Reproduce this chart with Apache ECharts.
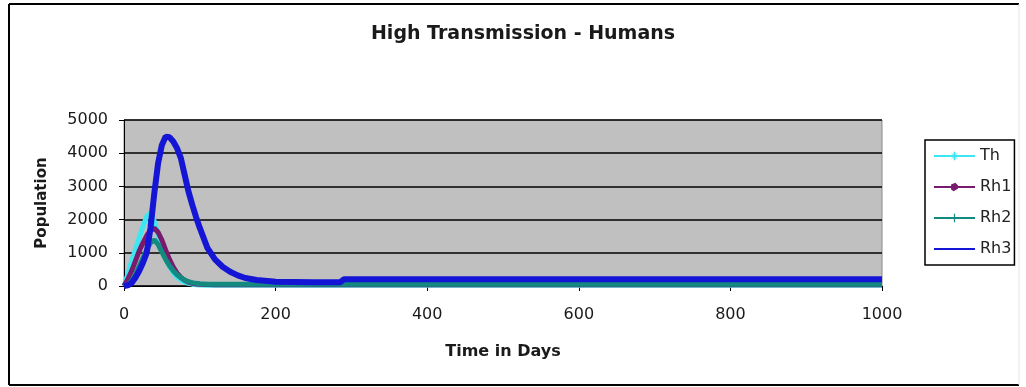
<!DOCTYPE html>
<html><head><meta charset="utf-8">
<script src="https://cdn.jsdelivr.net/npm/echarts@6/dist/echarts.min.js"></script>
<style>html,body{margin:0;padding:0;background:#fff}#c{width:1026px;height:387px}</style>
</head><body><div id="c"></div>
<script>
const titleText = "High Transmission - Humans";
const xName = "Time in Days";
const yName = "Population";
const seriesNames = ["Th", "Rh1", "Rh2", "Rh3"];
const days = [0,5,10,15,20,25,30,35,40,45,50,55,60,65,70,75,80,85,90,95,100,110,120,130,140,150,160,175,200,250,285,290,400,600,800,1000];
const th  = [0,350,750,1100,1450,1800,2100,2200,1950,1550,1150,820,580,400,270,180,120,80,55,40,30,25,20,20,20,20,20,20,20,20,20,20,20,20,20,20];
const rh1 = [0,200,450,750,1050,1300,1520,1680,1740,1620,1380,1080,800,570,390,260,170,115,80,60,50,45,40,40,40,40,40,40,40,40,40,40,40,40,40,40];
const rh2 = [0,30,150,350,600,850,1100,1300,1390,1250,1020,800,610,460,340,250,180,130,100,80,65,55,50,50,50,50,50,50,50,50,50,50,50,50,50,50];
const rh3 = [0,20,90,250,450,700,1000,1750,2800,3700,4250,4500,4480,4350,4150,3850,3350,2850,2450,2080,1750,1150,800,580,430,320,240,180,130,110,110,200,200,200,200,200];
const yTicks = [0,1000,2000,3000,4000,5000];
const xTicks = [0,200,400,600,800,1000];

const colors = ['#3ee6f2', '#7a1a6e', '#138a80', '#1515d6'];
// marker shapes padded with invisible zero-area points so they render small in the legend
const pad = 'M-2.5,-2.5L-2.5,-2.5Z M12.5,12.5L12.5,12.5Z ';
const symbols = [
  'path://' + pad + 'M4,0H6V3.6L8.5,1.1L8.9,1.5L6.4,4H10V6H6.4L8.9,8.5L8.5,8.9L6,6.4V10H4V6.4L1.5,8.9L1.1,8.5L3.6,6H0V4H3.6L1.1,1.5L1.5,1.1L4,3.6Z',
  'path://' + pad + 'M1,2L6,0L9,3L9,7L4,10L1,8Z',
  'path://' + pad + 'M4.3,0H5.7V4.3H10V5.7H5.7V10H4.3V5.7H0V4.3H4.3Z',
  'path://M0,0L0,0Z M10,10L10,10Z'
];
const allData = [th, rh1, rh2, rh3];

const ff = 'DejaVu Sans';
const chart = echarts.init(document.getElementById('c'), null, {renderer: 'canvas'});
chart.setOption({
  animation: false,
  backgroundColor: '#ffffff',
  title: {
    text: titleText, left: 518, top: 20, textAlign: 'center',
    textStyle: {fontFamily: ff, fontWeight: 'bold', fontSize: 19, color: '#1a1a1a'}
  },
  legend: {
    orient: 'vertical', left: 925, top: 140,
    padding: [8, 3, 8, 8], itemGap: 15, itemWidth: 41, itemHeight: 16,
    borderColor: '#000', borderWidth: 1.5,
    textStyle: {fontFamily: ff, fontSize: 16, color: '#222'},
    data: seriesNames
  },
  grid: {
    left: 124, right: 144, top: 120, bottom: 101,
    show: true, backgroundColor: '#c0c0c0', borderColor: '#8a8a8a', borderWidth: 1
  },
  xAxis: {
    type: 'value', min: 0, max: 1000, interval: 200,
    name: xName, nameLocation: 'middle', nameGap: 58,
    nameTextStyle: {fontFamily: ff, fontWeight: 'bold', fontSize: 16, color: '#1a1a1a'},
    axisLine: {show: true, lineStyle: {color: '#000', width: 1}},
    axisTick: {show: true, inside: false, length: 5, lineStyle: {color: '#000'}},
    axisLabel: {fontFamily: ff, fontSize: 16, color: '#1a1a1a', margin: 21,
      formatter: v => xTicks.includes(v) ? String(v) : ''},
    splitLine: {show: false}
  },
  yAxis: {
    type: 'value', min: 0, max: 5000, interval: 1000,
    name: yName, nameLocation: 'middle', nameGap: 74, nameRotate: 90,
    nameTextStyle: {fontFamily: ff, fontWeight: 'bold', fontSize: 15, color: '#1a1a1a'},
    axisLine: {show: true, lineStyle: {color: '#000', width: 1}},
    axisTick: {show: true, inside: false, length: 5, lineStyle: {color: '#000'}},
    axisLabel: {fontFamily: ff, fontSize: 16, color: '#1a1a1a', margin: 16,
      formatter: v => yTicks.includes(v) ? String(v) : ''},
    splitLine: {show: true, lineStyle: {color: '#000', width: 1.5}}
  },
  graphic: [
    {type: 'line', shape: {x1: 9, y1: 4, x2: 1019, y2: 4}, style: {stroke: '#000', lineWidth: 2}},
    {type: 'line', shape: {x1: 9, y1: 4, x2: 9, y2: 385}, style: {stroke: '#000', lineWidth: 2}},
    {type: 'line', shape: {x1: 9, y1: 385, x2: 1019, y2: 385}, style: {stroke: '#000', lineWidth: 2}},
    {type: 'line', shape: {x1: 1019, y1: 4, x2: 1019, y2: 385}, style: {stroke: '#e4e4e4', lineWidth: 1}}
  ],
  series: seriesNames.map((n, k) => ({
    name: n, type: 'line',
    data: days.map((d, i) => [d, allData[k][i]]),
    symbol: symbols[k], symbolSize: 8, showSymbol: false,
    smooth: false,
    lineStyle: {color: colors[k], width: k === 3 ? 6 : 5},
    itemStyle: {color: colors[k]},
    emphasis: {disabled: true}
  }))
});
</script></body></html>
